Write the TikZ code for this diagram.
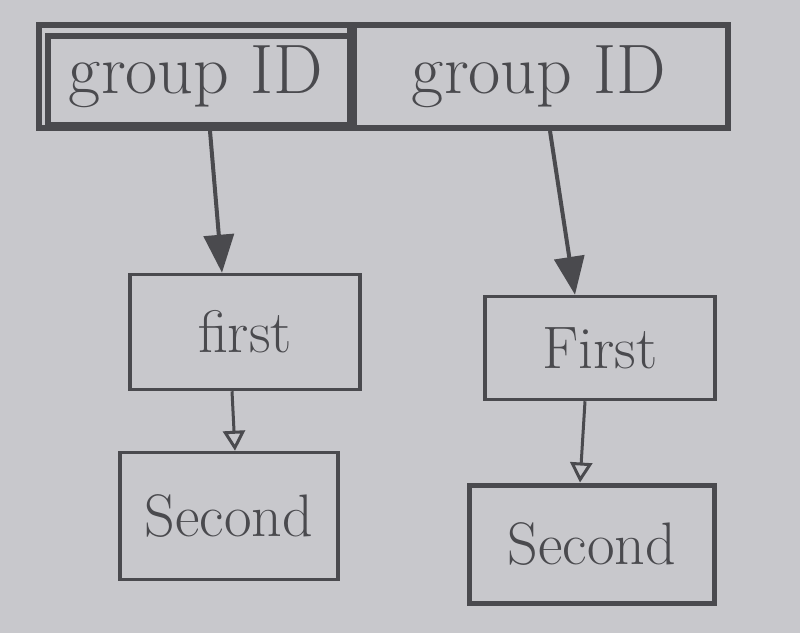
\documentclass[tikz,border=0pt]{standalone}
\usetikzlibrary{arrows.meta}
\definecolor{paper}{HTML}{C8C8CC}
\definecolor{pencil}{HTML}{4A4A4E}
\begin{document}
\begin{tikzpicture}[x=1pt,y=-1pt,
  box/.style={draw=pencil,line width=3.5pt,rectangle,inner sep=0pt,text=pencil},
  bigtxt/.style={font=\fontsize{70}{76}\selectfont},
  smalltxt/.style={font=\fontsize{60}{64}\selectfont},
  link/.style={draw=pencil,line width=4pt,-{Triangle[width=30pt,length=38pt]}},
  thinlink/.style={draw=pencil,line width=3pt,-{Triangle[open,width=22pt,length=20pt]}}]
\fill[paper] (0,0) rectangle (800,633);
\useasboundingbox (0,0) rectangle (800,633);
% top bar
\node[box,line width=6pt,minimum width=315pt,minimum height=103pt,bigtxt] (gidA) at (196,76.5) {group ID};
\node[box,line width=6pt,minimum width=378pt,minimum height=103pt,bigtxt] (gidB) at (539,76.5) {group ID};
\draw[pencil,line width=6pt] ([shift={(12pt,-14pt)}]gidA.north west) rectangle ([shift={(-4pt,6pt)}]gidA.south east);
% lower boxes
\node[box,minimum width=230pt,minimum height=115pt,smalltxt] (first1) at (245,332) {first};
\node[box,minimum width=230pt,minimum height=103pt,smalltxt] (first2) at (600,348) {First};
\node[box,minimum width=218pt,minimum height=127pt,smalltxt] (second1) at (229,516) {Second};
\node[box,line width=5pt,minimum width=245pt,minimum height=118pt,smalltxt] (second2) at (592,544) {Second};
% connectors
\draw[link] ([xshift=14pt]gidA.south) -- ([xshift=-23pt]first1.north);
\draw[link] ([xshift=11pt]gidB.south) -- ([xshift=-25pt]first2.north);
\draw[thinlink] ([xshift=-13pt]first1.south) -- ([xshift=6pt]second1.north);
\draw[thinlink] ([xshift=-15pt]first2.south) -- ([xshift=-12pt]second2.north);
\end{tikzpicture}
\end{document}
